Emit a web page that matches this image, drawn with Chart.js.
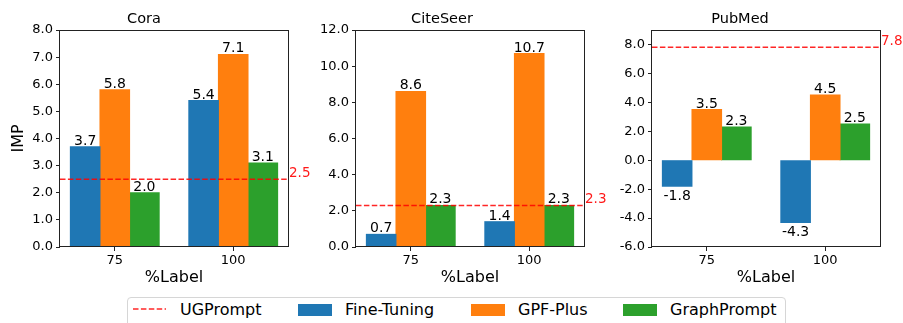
<!DOCTYPE html>
<html>
<head>
<meta charset="utf-8">
<script src="https://cdn.jsdelivr.net/npm/chart.js@4.4.0/dist/chart.umd.min.js"></script>
<style>
  body { margin: 0; width: 903px; height: 323px; background: #fff; position: relative; overflow: hidden; font-family: 'DejaVu Sans', sans-serif; }
  canvas { position: absolute; top: 0; }
  .lg-text { position: absolute; top: 302px; font-size: 16px; line-height: 16px; color: #000; white-space: nowrap; }
  .lg-patch { position: absolute; top: 304px; width: 34px; height: 12px; }
</style>
</head>
<body>
<canvas id="cora" width="320" height="290" style="left:0"></canvas>
<canvas id="citeseer" width="310" height="290" style="left:300px"></canvas>
<canvas id="pubmed" width="303" height="290" style="left:600px"></canvas>

<div style="position:absolute;left:127px;top:297px;width:659px;height:40px;border:1px solid #d6d6d6;border-radius:4px;box-sizing:border-box"></div>
<svg style="position:absolute;left:133px;top:305px" width="33" height="8">
  <line x1="0" y1="4" x2="33" y2="4" stroke="rgba(255,0,0,0.85)" stroke-width="1.5" stroke-dasharray="5.5 2.4"/>
</svg>
<span class="lg-text" style="left:180px">UGPrompt</span>
<div class="lg-patch" style="left:298px;background:#1f77b4"></div>
<span class="lg-text" style="left:345px">Fine-Tuning</span>
<div class="lg-patch" style="left:471px;background:#ff7f0e"></div>
<span class="lg-text" style="left:518px">GPF-Plus</span>
<div class="lg-patch" style="left:623px;background:#2ca02c"></div>
<span class="lg-text" style="left:670px">GraphPrompt</span>

<script>
// --- DATOS ---
const percents = ['75', '100'];

const coraFineTuning = [3.7, 5.4];
const coraGpfPlus = [5.8, 7.1];
const coraGraphPrompt = [2.0, 3.1];

const citeFineTuning = [0.7, 1.4];
const citeGpfPlus = [8.6, 10.7];
const citeGraphPrompt = [2.3, 2.3];

const pubFineTuning = [-1.8, -4.3];
const pubGpfPlus = [3.5, 4.5];
const pubGraphPrompt = [2.3, 2.5];

const ugPrompt = [2.5, 2.3, 7.8]; // Cora, CiteSeer, PubMed

const coraTicks = [0, 1, 2, 3, 4, 5, 6, 7, 8];
const citeTicks = [0, 2, 4, 6, 8, 10, 12];
const pubTicks = [-6, -4, -2, 0, 2, 4, 6, 8];

const coraRange = [0, 8];
const citeRange = [0, 12];
const pubRange = [-6, 9];

const xRange = [-0.4625, 1.4625];

const colors = { ft: '#1f77b4', gpf: '#ff7f0e', gp: '#2ca02c', ug: 'rgba(255,0,0,0.85)' };

Chart.defaults.font.family = "'DejaVu Sans', sans-serif";
Chart.defaults.color = '#000';

// --- PLUGINS ---
const barLabels = {
  id: 'barLabels',
  afterDatasetsDraw(chart) {
    const ctx = chart.ctx;
    ctx.save();
    ctx.font = "14px 'DejaVu Sans'";
    ctx.fillStyle = '#000';
    ctx.textAlign = 'center';
    chart.data.datasets.forEach((ds, i) => {
      if (ds.type === 'line') return;
      chart.getDatasetMeta(i).data.forEach((bar, j) => {
        const v = ds.data[j].y;
        if (v >= 0) {
          ctx.textBaseline = 'alphabetic';
          ctx.fillText(v.toFixed(1), bar.x, bar.y - 2);
        } else {
          ctx.textBaseline = 'top';
          ctx.fillText(v.toFixed(1), bar.x, bar.y + 3);
        }
      });
    });
    ctx.restore();
  }
};

const frame = {
  id: 'frame',
  afterDraw(chart, args, opts) {
    const { ctx, chartArea: a } = chart;
    ctx.save();
    ctx.strokeStyle = '#222';
    ctx.lineWidth = 1;
    ctx.strokeRect(Math.round(a.left) - 0.5, Math.round(a.top) + 0.5, Math.round(a.right - a.left) + 1, Math.round(a.bottom - a.top) - 1);
    // etiqueta de UGPrompt
    const y = chart.scales.y.getPixelForValue(opts.ug);
    ctx.fillStyle = 'rgba(255,0,0,0.9)';
    ctx.font = "13.5px 'DejaVu Sans'";
    ctx.textAlign = 'left';
    ctx.textBaseline = 'alphabetic';
    ctx.fillText(opts.ug.toFixed(1), a.right + 1, y - 2);
    ctx.restore();
  }
};

// --- GRÁFICAS ---
function makeChart(id, ft, gpf, gp, ug, range, ticks, title, yWidth, padRight, showYTitle) {
  const pts = arr => arr.map((v, i) => ({ x: i, y: v }));
  return new Chart(document.getElementById(id), {
    type: 'bar',
    data: {
      datasets: [
        { type: 'line', data: [{ x: xRange[0], y: ug }, { x: xRange[1], y: ug }], borderColor: colors.ug, borderWidth: 1.5, borderDash: [5.5, 2.4], pointRadius: 0, order: 0 },
        { data: pts(ft), backgroundColor: colors.ft, order: 1 },
        { data: pts(gpf), backgroundColor: colors.gpf, order: 1 },
        { data: pts(gp), backgroundColor: colors.gp, order: 1 }
      ]
    },
    options: {
      responsive: false,
      animation: false,
      devicePixelRatio: 1,
      categoryPercentage: 0.75,
      barPercentage: 1.0,
      elements: { bar: { borderWidth: 0, inflateAmount: 0.5 } },
      layout: { padding: { left: 0, right: padRight, top: 0, bottom: 0 } },
      plugins: {
        legend: { display: false },
        tooltip: { enabled: false },
        title: { display: true, text: title, font: { size: 14.5, weight: 'normal' }, color: '#000', padding: { top: 10.3, bottom: 2.3 } },
        frame: { ug: ug }
      },
      scales: {
        x: {
          type: 'linear',
          min: xRange[0],
          max: xRange[1],
          offset: false,
          afterBuildTicks: s => { s.ticks = percents.map((p, i) => ({ value: i })); },
          afterFit: s => { s.height = 43; },
          ticks: { callback: v => percents[v], font: { size: 13 }, padding: 1.5, maxRotation: 0, autoSkip: false },
          grid: { display: true, offset: false, drawOnChartArea: false, drawTicks: true, tickLength: 4, tickColor: '#222', tickWidth: 1 },
          border: { display: false },
          title: { display: true, text: '%Label', font: { size: 16 }, color: '#000', padding: { top: 0, bottom: 2.4 } }
        },
        y: {
          min: range[0],
          max: range[1],
          afterBuildTicks: s => { s.ticks = ticks.map(v => ({ value: v })); },
          afterFit: s => { s.width = yWidth; },
          ticks: { callback: v => v.toFixed(1), font: { size: 13 }, padding: 3 },
          grid: { display: true, drawOnChartArea: false, drawTicks: true, tickLength: 4, tickColor: '#222', tickWidth: 1 },
          border: { display: false },
          title: { display: showYTitle, text: 'IMP', font: { size: 16 }, color: '#000', padding: { top: 9, bottom: 0 } }
        }
      }
    },
    plugins: [barLabels, frame]
  });
}

makeChart('cora', coraFineTuning, coraGpfPlus, coraGraphPrompt, ugPrompt[0], coraRange, coraTicks, 'Cora', 60, 32, true);
makeChart('citeseer', citeFineTuning, citeGpfPlus, citeGraphPrompt, ugPrompt[1], citeRange, citeTicks, 'CiteSeer', 56, 26, false);
makeChart('pubmed', pubFineTuning, pubGpfPlus, pubGraphPrompt, ugPrompt[2], pubRange, pubTicks, 'PubMed', 52, 23, false);
</script>
</body>
</html>
